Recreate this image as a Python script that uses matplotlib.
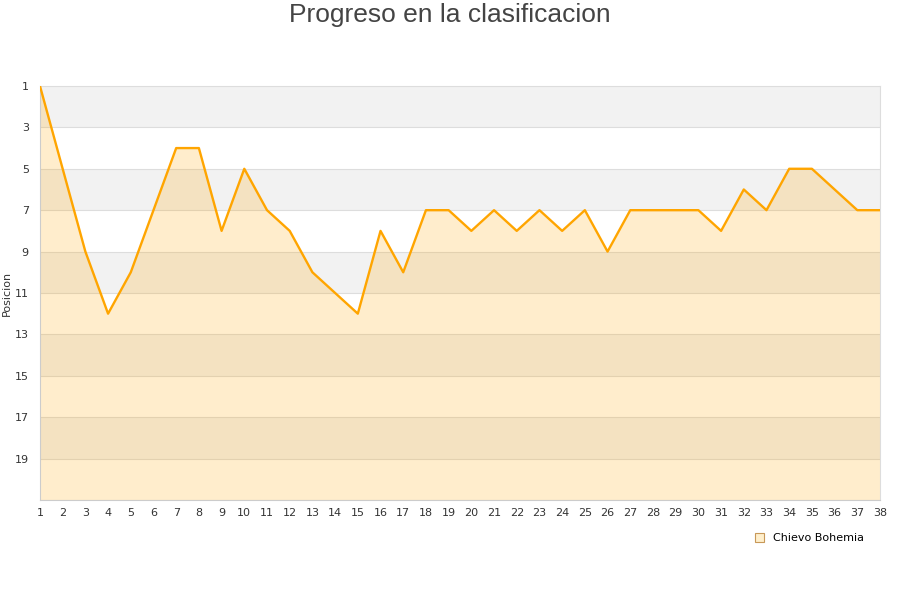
import matplotlib
matplotlib.use("Agg")
import matplotlib.pyplot as plt
from matplotlib.patches import Patch

jornadas = list(range(1, 39))
posiciones = [1, 5, 9, 12, 10, 7, 4, 4, 8, 5, 7, 8, 10, 11, 12, 8, 10, 7, 7, 8,
              7, 8, 7, 8, 7, 9, 7, 7, 7, 7, 8, 6, 7, 5, 5, 6, 7, 7]
y_ticks = [1, 3, 5, 7, 9, 11, 13, 15, 17, 19]
team = "Chievo Bohemia"
title = "Progreso en la clasificacion"
ylabel = "Posicion"

fig = plt.figure(figsize=(9, 6), dpi=100)
ax = fig.add_axes([0.0444, 0.1667, 0.9334, 0.69])

# alternating bands
for i, start in enumerate(range(1, 21, 2)):
    color = "#f2f2f2" if i % 2 == 0 else "white"
    ax.axhspan(start, start + 2, color=color, zorder=0, lw=0)
for t in y_ticks[1:] + [21]:
    ax.axhline(t, color="#dddddd", lw=0.8, zorder=1)

ax.fill_between(jornadas, posiciones, 21, color="orange", alpha=0.2, lw=0, zorder=2)
ax.plot(jornadas, posiciones, color="#FFA500", lw=1.7, zorder=3)

ax.set_xlim(1, 38)
ax.set_ylim(21, 1)
ax.set_yticks(y_ticks)
ax.set_xticks(jornadas)
ax.tick_params(axis="both", length=0, labelsize=8, colors="#333333", pad=6)
ax.tick_params(axis="y", pad=8)
for s in ["top", "right"]:
    ax.spines[s].set_color("#dddddd")
for s in ["left", "bottom"]:
    ax.spines[s].set_color("#cccccc")
ax.set_ylabel(ylabel, fontsize=8, color="#333333", labelpad=2)

fig.text(0.5, 0.975, title, fontsize=19, color="#444444", ha="center", va="center",
         family=["Liberation Sans", "DejaVu Sans"])

handle = Patch(facecolor="#FFEFCC", edgecolor="#c89858", lw=0.8)
fig.legend([handle], [team], loc="upper left", bbox_to_anchor=(0.828, 0.128),
           frameon=False, fontsize=8, handlelength=0.8, handleheight=0.8,
           handletextpad=0.8)

fig.savefig("out.png", dpi=100)
